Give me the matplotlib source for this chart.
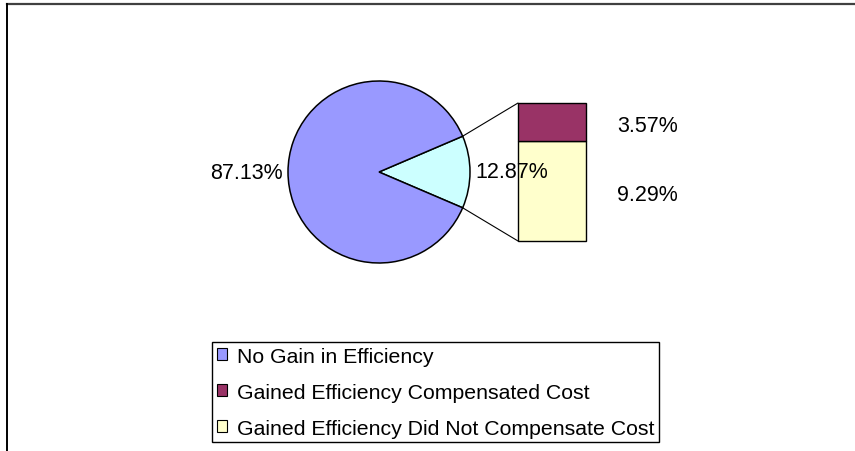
import numpy as np
import matplotlib.pyplot as plt
from matplotlib.patches import ConnectionPatch, Patch
from matplotlib.lines import Line2D

plt.rcParams['font.family'] = ['Liberation Sans', 'DejaVu Sans']

# data
pie_labels = ['Gained Efficiency', 'No Gain in Efficiency']
pie_values = [12.87, 87.13]
pie_colors = ['#CCFFFF', '#9999FF']

bar_labels = ['Gained Efficiency Did Not Compensate Cost',
              'Gained Efficiency Compensated Cost']
bar_values = [9.29, 3.57]
bar_colors = ['#FFFFCC', '#993366']

W, H = 855, 452
fig = plt.figure(figsize=(W / 100, H / 100), dpi=100)

# stacked bar, from x 518..586, y 104..242 px
bx0, bx1, by0, by1 = 518, 586, 104, 242
ax_bar = fig.add_axes([bx0 / W, (H - by1) / H, (bx1 - bx0) / W, (by1 - by0) / H])
bottom = 0
for val, col in zip(bar_values, bar_colors):
    ax_bar.bar(0, val, width=1, bottom=bottom, color=col,
               edgecolor='black', linewidth=1.0, clip_on=False)
    ax_bar.annotate(f'{val:.2f}%', (1.46, bottom + val / 2),
                    xycoords=ax_bar.get_yaxis_transform(),
                    xytext=(0, -2.5), textcoords='offset points',
                    fontsize=15.5, va='center', ha='left')
    bottom += val
ax_bar.set_xlim(-0.5, 0.5)
ax_bar.set_ylim(0, sum(bar_values))
ax_bar.axis('off')

# pie, centred at (379, 173) px with radius 91 px
cx, cy, r = 379, 173, 91
ax_pie = fig.add_axes([(cx - r) / W, (H - cy - r) / H, 2 * r / W, 2 * r / H])
half = pie_values[0] / 100 * 360 / 2
wedges, texts = ax_pie.pie(pie_values, colors=pie_colors, startangle=-half,
                           labels=[f'{v:.2f}%' for v in pie_values],
                           labeldistance=1.06,
                           wedgeprops=dict(edgecolor='black', linewidth=1.1),
                           textprops=dict(fontsize=15.5))
ax_pie.set_xlim(-1, 1)
ax_pie.set_ylim(-1, 1)
ax_pie.axis('off')

# connector lines
theta1, theta2 = wedges[0].theta1, wedges[0].theta2
for theta, yb in [(theta2, sum(bar_values)), (theta1, 0)]:
    x = np.cos(np.radians(theta))
    y = np.sin(np.radians(theta))
    con = ConnectionPatch(xyA=(-0.5, yb), coordsA=ax_bar.transData,
                          xyB=(x, y), coordsB=ax_pie.transData,
                          color='black', linewidth=0.8)
    fig.add_artist(con)

# legend
handles = [Patch(facecolor=pie_colors[1], edgecolor='black', linewidth=0.8),
           Patch(facecolor=bar_colors[1], edgecolor='black', linewidth=0.8),
           Patch(facecolor=bar_colors[0], edgecolor='black', linewidth=0.8)]
names = ['No Gain in Efficiency', bar_labels[1], bar_labels[0]]
leg = fig.legend(handles, names, loc='upper left',
                 bbox_to_anchor=(212 / W, 1 - 343 / H), fontsize=15.3,
                 handlelength=0.47, handleheight=0.47, handletextpad=0.5,
                 labelspacing=0.8, borderpad=0.22, borderaxespad=0,
                 fancybox=False, edgecolor='black', framealpha=1)
leg.get_frame().set_linewidth(1.0)

# chart border (top and left)
fig.add_artist(Line2D([7 / W, 1], [1 - 5 / H, 1 - 5 / H], color='#404040', linewidth=1.6))
fig.add_artist(Line2D([7 / W, 7 / W], [0, 1 - 5 / H], color='black', linewidth=1.4))

fig.savefig('out.png', dpi=100)
